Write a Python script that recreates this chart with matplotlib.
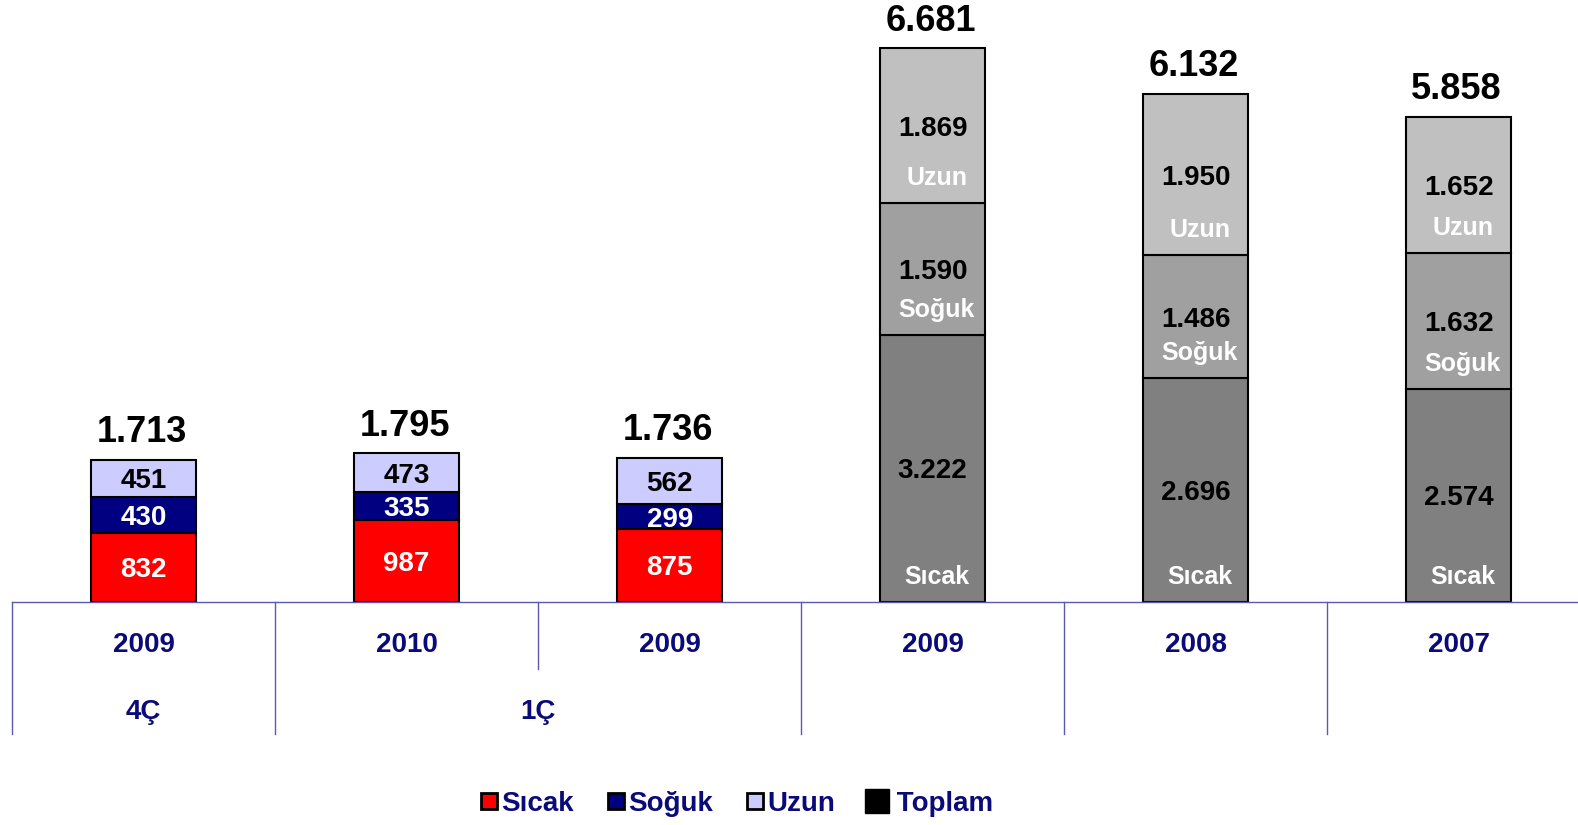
import matplotlib.pyplot as plt
from matplotlib.lines import Line2D
import matplotlib.transforms as mtransforms

plt.rcParams['font.family'] = ['Liberation Sans', 'DejaVu Sans']
plt.rcParams['font.weight'] = 'bold'

# values
years = ['2009', '2010', '2009', '2009', '2008', '2007']
sicak = [832, 987, 875, 3222, 2696, 2574]
soguk = [430, 335, 299, 1590, 1486, 1632]
uzun = [451, 473, 562, 1869, 1950, 1652]
toplam = [1713, 1795, 1736, 6681, 6132, 5858]
periods = ['4Ç', '1Ç']

def fmt(v):
    return f"{v:,}".replace(',', '.')

navy = '#0A0A78'
line_col = '#5A5AB4'

fig = plt.figure(figsize=(15.78, 8.25), dpi=100)
ax = fig.add_axes([0.0077, 0.2707, 1.0, 0.7293])
ax.set_xlim(-0.5, 5.5)
ax.set_ylim(0, 7266)

x = list(range(len(years)))
col_sicak = ['#FF0000'] * 3 + ['#808080'] * 3
col_soguk = ['#000080'] * 3 + ['#A0A0A0'] * 3
col_uzun = ['#CCCCFF'] * 3 + ['#C0C0C0'] * 3

w = 0.4
bottom2 = [a + b for a, b in zip(sicak, soguk)]
ax.bar(x, sicak, w, color=col_sicak, edgecolor='black', linewidth=1.5)
ax.bar(x, soguk, w, bottom=sicak, color=col_soguk, edgecolor='black', linewidth=1.5)
ax.bar(x, uzun, w, bottom=bottom2, color=col_uzun, edgecolor='black', linewidth=1.5)

for i in x:
    gray = i >= 3
    segs = [(sicak[i], 0, 'Sıcak', 'white'),
            (soguk[i], sicak[i], 'Soğuk', 'white'),
            (uzun[i], bottom2[i], 'Uzun', 'black')]
    for val, base, name, tc in segs:
        c = 'black' if gray else tc
        ax.annotate(fmt(val), (i, base + val / 2), xytext=(0, -3),
                    textcoords='offset pixels', ha='center', va='center',
                    fontsize=20, color=c, fontweight='bold')
        if gray:
            ax.annotate(name, (i, base), xytext=(4, 25), textcoords='offset pixels',
                        ha='center', va='center', fontsize=18, color='white',
                        fontweight='bold')
    ax.annotate(fmt(toplam[i]), (i, toplam[i]), xytext=(-2, 27),
                textcoords='offset pixels', ha='center', va='center',
                fontsize=26, color='black', fontweight='bold')

# category axis
for s in ['top', 'right', 'left']:
    ax.spines[s].set_visible(False)
ax.spines['bottom'].set_color(line_col)
ax.spines['bottom'].set_linewidth(1)
ax.set_yticks([])
ax.set_xticks([])

trans = mtransforms.blended_transform_factory(ax.transData, ax.transAxes)
for xs in [-0.5, 0.5, 2.5, 3.5, 4.5]:
    ax.plot([xs, xs], [0, -0.2207], color=line_col, lw=1, transform=trans, clip_on=False)
ax.plot([1.5, 1.5], [0, -0.112], color=line_col, lw=1, transform=trans, clip_on=False)

for i, yr in enumerate(years):
    ax.text(i, -0.072, yr, transform=trans, ha='center', va='center',
            fontsize=20, color=navy, fontweight='bold')
ax.text(0, -0.184, periods[0], transform=trans, ha='center', va='center',
        fontsize=20, color=navy, fontweight='bold')
ax.text(1.5, -0.184, periods[1], transform=trans, ha='center', va='center',
        fontsize=20, color=navy, fontweight='bold')

handles = [
    Line2D([], [], ls='none', marker='s', ms=12, mfc='#FF0000', mec='black', mew=2),
    Line2D([], [], ls='none', marker='s', ms=12, mfc='#000080', mec='black', mew=2),
    Line2D([], [], ls='none', marker='s', ms=12, mfc='#CCCCFF', mec='black', mew=2),
    Line2D([], [], ls='none', marker='s', ms=17, mfc='black', mec='black'),
]
leg = fig.legend(handles, ['Sıcak', 'Soğuk', 'Uzun', ' Toplam'], loc='center',
                 bbox_to_anchor=(0.467, 0.026), ncol=4, frameon=False,
                 handlelength=0.6, handletextpad=0.15, columnspacing=1.2,
                 prop={'size': 20, 'weight': 'bold'})
for t in leg.get_texts():
    t.set_color(navy)

fig.savefig('out.png', dpi=100)
